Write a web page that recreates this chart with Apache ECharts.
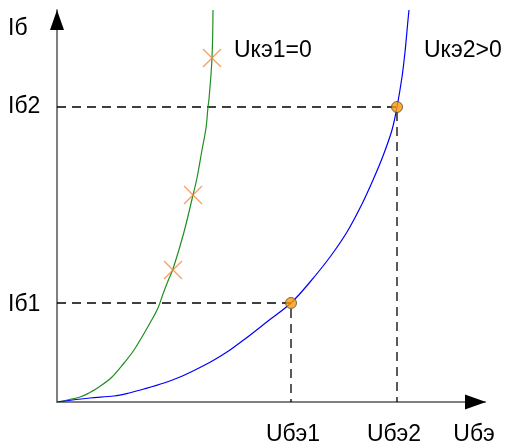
<!DOCTYPE html>
<html><head><meta charset="utf-8">
<script src="https://cdn.jsdelivr.net/npm/echarts@6/dist/echarts.min.js"></script>
<style>html,body{margin:0;padding:0;background:#fff}#c{width:510px;height:448px}</style>
</head><body><div id="c"></div>
<script>
// Values in chart units (origin at axes crossing)
const greenCurve = [[0,0],[23,5],[32,9],[42,15],[55,25],[67,39],[77,52],[93,79],[101,94],[106,108],[111,121],[116,133],[127,170],[136,207],[140,224],[145,252],[149,274],[151,295],[152,303],[155,344],[156,392]];
const blueCurve = [[0,0],[33,4],[57,6],[72,9],[87,13],[107,19],[123,25],[140,33],[157,42],[173,52],[188,63],[211,81],[234,99],[253,120],[273,145],[290,170],[305,198],[316,222],[326,246],[335,272],[340,295],[345,325],[348,350],[351,382],[352,392]];
const operatingPoints = [[234,99],[340,295]];
const crossPoints = [[116,132],[136,207],[155,344]];
const xTickValues = [236, 337, 417];
const xTickLabels = ['Uбэ1', 'Uбэ2', 'Uбэ'];
const yTickValues = [97, 295, 373];
const yTickLabels = ['Iб1', 'Iб2', 'Iб'];
const curveLabels = ['Uкэ1=0', 'Uкэ2>0'];

const FONT = '"Liberation Sans", Arial, sans-serif';
const G = {left:57, top:10, width:428, height:392};
const xMap = {}; xTickValues.forEach((v,i)=>xMap[v]=xTickLabels[i]);
const yMap = {}; yTickValues.forEach((v,i)=>yMap[v]=yTickLabels[i]);

const dashStyle = {color:'#000', width:1.3, type:[9,6]};
const chart = echarts.init(document.getElementById('c'), null, {renderer:'canvas'});
chart.setOption({
  animation:false,
  backgroundColor:'#fff',
  grid:{left:G.left, top:G.top, width:G.width, height:G.height, containLabel:false},
  xAxis:{type:'value', min:0, max:428, splitLine:{show:false}, axisTick:{show:false},
    axisLine:{show:true, lineStyle:{color:'#7f7f7f', width:2}},
    axisLabel:{customValues:xTickValues, formatter:v=>xMap[v]||'', margin:21, color:'#000', fontSize:23, fontFamily:FONT}},
  yAxis:{type:'value', min:0, max:392, splitLine:{show:false}, axisTick:{show:false},
    axisLine:{show:true, lineStyle:{color:'#7f7f7f', width:2}},
    axisLabel:{customValues:yTickValues, formatter:v=>yMap[v]||'', margin:49, align:'left', color:'#000', fontSize:23, fontFamily:FONT}},
  series:[
    {type:'line', data:[[0,operatingPoints[0][1]],operatingPoints[0],[operatingPoints[0][0],0]], symbol:'none', lineStyle:dashStyle, z:1},
    {type:'line', data:[[0,operatingPoints[1][1]],operatingPoints[1],[operatingPoints[1][0],0]], symbol:'none', lineStyle:dashStyle, z:1},
    {type:'line', data:greenCurve, symbol:'none', smooth:0.35, lineStyle:{color:'#1f8f1f', width:1.2}, z:2},
    {type:'line', data:blueCurve, symbol:'none', smooth:0.35, lineStyle:{color:'#0000ff', width:1.2}, z:2},
    {type:'scatter', data:crossPoints, symbol:'path://M0,0L10,10M10,0L0,10', symbolSize:18,
      itemStyle:{color:'none', borderColor:'#f5873a', borderWidth:1.3}, z:3},
    {type:'scatter', data:operatingPoints, symbol:'circle', symbolSize:11,
      itemStyle:{color:'#ff9a00', borderColor:'#4a4a4a', borderWidth:1}, z:4}
  ],
  graphic:[
    {type:'polygon', shape:{points:[[50,30],[64,30],[57,10]]}, style:{fill:'#000'}, z:10},
    {type:'polygon', shape:{points:[[465,394.5],[465,409.5],[486,402]]}, style:{fill:'#000'}, z:10},
    {type:'text', left:234, top:39, style:{text:curveLabels[0], font:'23px '+FONT, fill:'#000'}},
    {type:'text', left:424, top:39, style:{text:curveLabels[1], font:'23px '+FONT, fill:'#000'}}
  ]
});
</script></body></html>
